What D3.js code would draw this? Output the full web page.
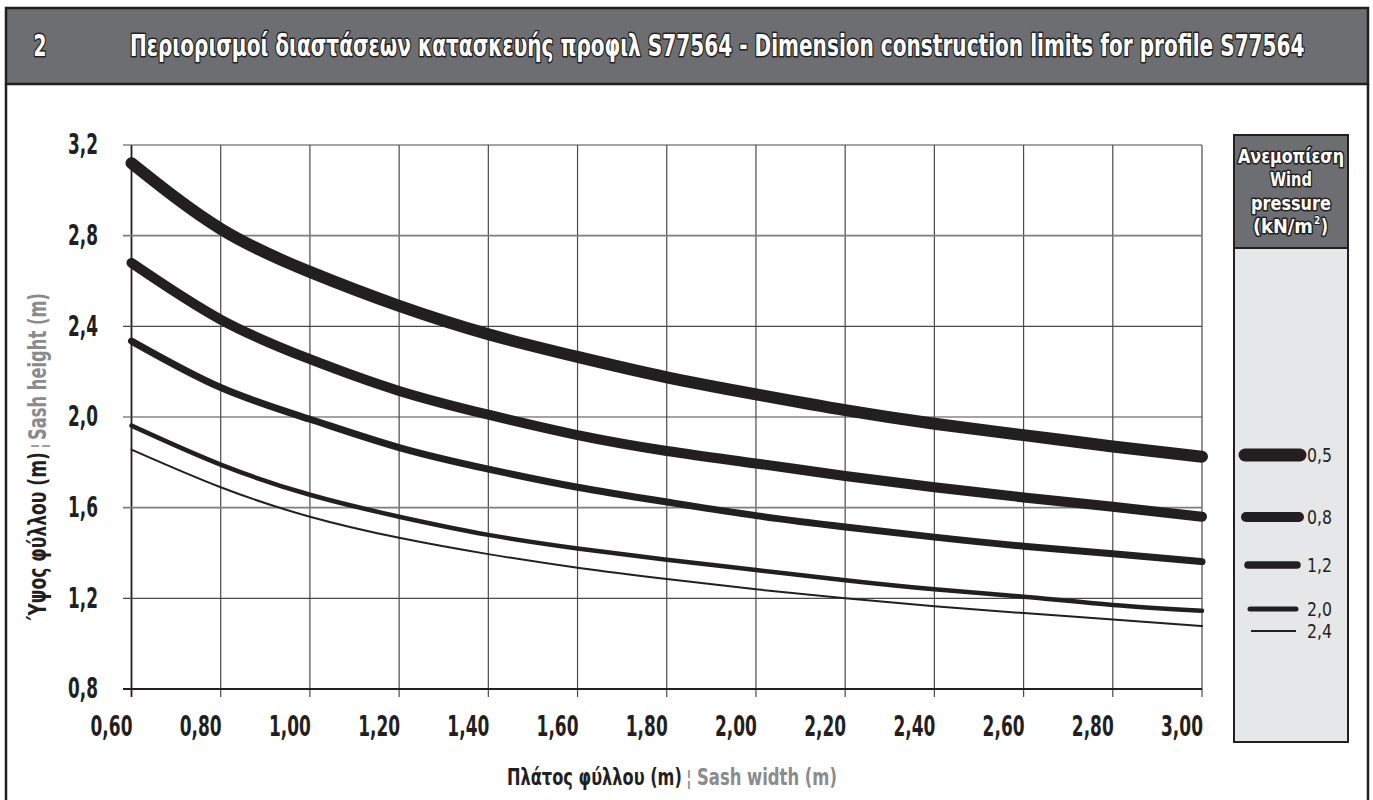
<!DOCTYPE html>
<html><head><meta charset="utf-8">
<script src="https://cdn.jsdelivr.net/npm/d3@7"></script>
<style>
html,body{margin:0;padding:0;background:#fff;}
svg{display:block;}
text{font-family:"DejaVu Sans Condensed","DejaVu Sans",sans-serif;}
</style></head>
<body>
<svg id="c" width="1373" height="800"></svg>
<script>
const widths = [0.6,0.8,1.0,1.2,1.4,1.6,1.8,2.0,2.2,2.4,2.6,2.8,3.0];
const s05 = [3.12,2.83,2.64,2.49,2.365,2.265,2.175,2.10,2.03,1.97,1.92,1.87,1.825];
const s08 = [2.68,2.43,2.255,2.115,2.01,1.92,1.85,1.795,1.74,1.69,1.645,1.604,1.56];
const s12 = [2.335,2.13,1.99,1.865,1.77,1.69,1.625,1.565,1.515,1.47,1.43,1.397,1.362];
const s20 = [1.962,1.79,1.657,1.56,1.48,1.42,1.37,1.325,1.28,1.24,1.207,1.171,1.145];
const s24 = [1.856,1.69,1.56,1.467,1.395,1.335,1.285,1.24,1.20,1.165,1.135,1.107,1.078];
const pressures = ["0,5","0,8","1,2","2,0","2,4"];
const seriesList = [s05,s08,s12,s20,s24];
const xTicks = [0.6,0.8,1.0,1.2,1.4,1.6,1.8,2.0,2.2,2.4,2.6,2.8,3.0];
const yTicks = [0.8,1.2,1.6,2.0,2.4,2.8,3.2];
const titleNum = "2";
const titleText = "Περιορισμοί διαστάσεων κατασκευής προφιλ S77564 - Dimension construction limits for profile S77564";
const legendHeader = ["Ανεμοπίεση","Wind","pressure"];

const strokeW = [12,10,7,4.5,2];
const svg = d3.select("#c");
const dark = "#231f20";
const grey = "#8a8b8d";

function fit(t, w){
  const n = t.node().getComputedTextLength();
  if(!n) return t;
  const sx = w/n, x = +t.attr("x"), y = +t.attr("y");
  t.attr("transform", `translate(${x},${y}) scale(${sx},1) translate(${-x},${-y})`);
  return t;
}

svg.append("line").attr("x1",6).attr("x2",6).attr("y1",84).attr("y2",800).attr("stroke",dark).attr("stroke-width",2.5);
svg.append("line").attr("x1",1368).attr("x2",1368).attr("y1",84).attr("y2",800).attr("stroke",dark).attr("stroke-width",2.5);
svg.append("rect").attr("x",6).attr("y",8).attr("width",1362).attr("height",76).attr("fill","#6d6e71").attr("stroke",dark).attr("stroke-width",2.5);

function outlined(g, txt, x, y, size, anchor){
  return g.append("text").attr("x",x).attr("y",y).attr("font-size",size).attr("font-weight","bold")
    .attr("text-anchor",anchor).attr("fill","#fff").attr("stroke",dark).attr("stroke-width",3)
    .attr("paint-order","stroke").attr("stroke-linejoin","round").text(txt);
}
fit(outlined(svg, titleNum, 40, 56, 30, "middle"), 13);
fit(outlined(svg, titleText, 130, 56, 30, "start"), 1175);

const x = d3.scaleLinear().domain([0.6,3.0]).range([131.5,1202]);
const y = d3.scaleLinear().domain([0.8,3.2]).range([689,145]);

const g = svg.append("g");
const hGrey = [1.6,2.8];
g.selectAll(".vg").data(xTicks).join("line").attr("x1",d=>x(d)).attr("x2",d=>x(d))
  .attr("y1",y(3.2)).attr("y2",697).attr("stroke",(d,i)=> i===0?dark:"#4a4a4c").attr("stroke-width",(d,i)=>i===0?1.8:1.2);
g.selectAll(".hg").data(yTicks).join("line").attr("x1",123).attr("x2",x(3.0))
  .attr("y1",d=>y(d)).attr("y2",d=>y(d))
  .attr("stroke",d=> hGrey.includes(d)?"#7d7d80":(d===0.8?dark:"#4a4a4c"))
  .attr("stroke-width",d=> hGrey.includes(d)?1.6:(d===0.8?1.8:1.2));

g.selectAll(".xl").data(xTicks).join("text").attr("x",d=>x(d)+1).attr("y",736).attr("text-anchor","end")
  .attr("font-size",29).attr("font-weight","bold").attr("fill",dark).text(d=>d.toFixed(2).replace(".",","))
  .each(function(){ fit(d3.select(this), 42); });
g.selectAll(".yl").data(yTicks).join("text").attr("x",98).attr("y",d=>y(d)+9.5).attr("text-anchor","end")
  .attr("font-size",29).attr("font-weight","bold").attr("fill",dark).text(d=>d.toFixed(1).replace(".",","))
  .each(function(){ fit(d3.select(this), 30); });

const line = d3.line().x((d,i)=>x(widths[i])).y(d=>y(d)).curve(d3.curveNatural);
seriesList.forEach((s,k)=>{
  g.append("path").attr("d",line(s)).attr("fill","none").attr("stroke",dark)
   .attr("stroke-width",strokeW[k]).attr("stroke-linecap","round").attr("stroke-linejoin","round");
});

fit(svg.append("text").attr("x",507).attr("y",785).attr("font-size",23).attr("font-weight","bold").attr("fill",dark).text("Πλάτος φύλλου (m)"),175);
svg.append("text").attr("x",689).attr("y",785).attr("text-anchor","middle").attr("font-size",21).attr("fill",grey).text("¦");
fit(svg.append("text").attr("x",697).attr("y",785).attr("font-size",23).attr("font-weight","bold").attr("fill",grey).text("Sash width (m)"),140);

const yg = svg.append("g").attr("transform","rotate(-90)");
fit(yg.append("text").attr("x",-620).attr("y",46).attr("font-size",24).attr("font-weight","bold").attr("fill",dark).text("Ύψος φύλλου (m)"),168);
yg.append("text").attr("x",-446).attr("y",46).attr("text-anchor","middle").attr("font-size",21).attr("fill",grey).text("¦");
fit(yg.append("text").attr("x",-440).attr("y",46).attr("font-size",24).attr("font-weight","bold").attr("fill",grey).text("Sash height (m)"),147);

const L = svg.append("g");
L.append("rect").attr("x",1234).attr("y",135).attr("width",114).attr("height",607).attr("fill","#e6e7e8").attr("stroke",dark).attr("stroke-width",2);
L.append("rect").attr("x",1234).attr("y",135).attr("width",114).attr("height",113).attr("fill","#6d6e71").attr("stroke",dark).attr("stroke-width",2);
const hdrW = [106,42,80];
const hdrY = [163,186,210];
legendHeader.forEach((t,i)=>fit(outlined(L,t,1291,hdrY[i],19.5,"middle"),hdrW[i]));
fit(outlined(L,"(kN/m",1253,233,19.5,"start"),60);
L.append("text").attr("x",1314).attr("y",224).attr("font-size",10).attr("font-weight","bold").attr("fill","#fff").attr("stroke",dark).attr("stroke-width",2).attr("paint-order","stroke").text("2");
fit(outlined(L,")",1321,233,19.5,"start"),7);
const legY = [455,517,565,609,631];
const legX1 = [1245,1246,1248,1250,1251];
const legX2 = [1300,1299,1297,1296,1296];
const legW = [13,10,7.5,5,2];
pressures.forEach((p,k)=>{
  L.append("line").attr("x1",legX1[k]).attr("x2",legX2[k]).attr("y1",legY[k]).attr("y2",legY[k])
    .attr("stroke",dark).attr("stroke-width",legW[k]).attr("stroke-linecap",k<4?"round":"butt");
  fit(L.append("text").attr("x",1307).attr("y",legY[k]+7).attr("font-size",19).attr("fill",dark).text(p),25);
});
</script>
</body></html>
